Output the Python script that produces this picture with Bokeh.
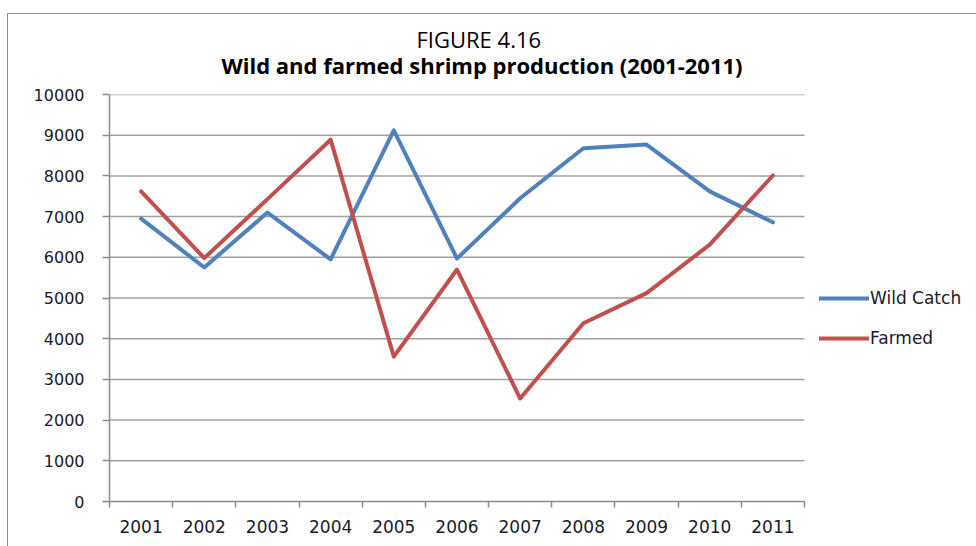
from bokeh.plotting import figure
from bokeh.models import FixedTicker, Legend, LegendItem, Title, Range1d
from bokeh.embed import file_html
from bokeh.resources import INLINE

years = ["2001", "2002", "2003", "2004", "2005", "2006", "2007", "2008", "2009", "2010", "2011"]
wild_catch = [6950, 5750, 7100, 5950, 9120, 5970, 7450, 8680, 8770, 7620, 6860]
farmed = [7620, 5980, 7430, 8890, 3560, 5700, 2530, 4380, 5120, 6310, 8010]
y_ticks = [0, 1000, 2000, 3000, 4000, 5000, 6000, 7000, 8000, 9000, 10000]

TFONT = "Open Sans"
FONT = "DejaVu Sans"
n = len(years)
xs = [i + 0.5 for i in range(n)]

# plot area 108..803 px holds the 11 categories; frame continues to 976 to host the legend
x_end = n * (976 - 108) / (803 - 108)

p = figure(width=969, height=533, output_backend="svg", toolbar_location=None,
           x_range=Range1d(0, x_end), y_range=Range1d(0, 10000),
           min_border_left=101, min_border_right=0, min_border_top=80, min_border_bottom=46)
p.margin = (13, 0, 0, 7)
p.styles = {"border-left": "1px solid #8c8c8c", "border-top": "1px solid #8c8c8c"}

p.title = Title(text="FIGURE 4.16", align="left", text_font=TFONT, text_font_size="22px",
                text_font_style="normal", text_color="#000000", offset=307, standoff=-40)
p.add_layout(Title(text="Wild and farmed shrimp production (2001-2011)", align="left",
                   text_font=TFONT, text_font_size="22px", text_font_style="bold",
                   text_color="#000000", offset=112, standoff=29), "above")

p.outline_line_color = None
p.background_fill_color = "white"
p.border_fill_color = "white"

# axes
p.xaxis.bounds = (0, n)
p.xaxis.ticker = FixedTicker(ticks=xs, minor_ticks=list(range(n + 1)))
p.xaxis.major_label_overrides = {x: y for x, y in zip(xs, years)}
p.xaxis.major_tick_line_color = None
p.xaxis.minor_tick_line_color = "#8c8c8c"
p.xaxis.minor_tick_line_width = 1.5
p.xaxis.minor_tick_out = 6
p.xaxis.minor_tick_in = 0
p.xaxis.axis_line_color = "#8c8c8c"
p.xaxis.axis_line_width = 1.5
p.xaxis.major_label_standoff = 12
p.xaxis.major_label_text_font = FONT
p.xaxis.major_label_text_font_size = "17px"
p.xaxis.major_label_text_color = "#1a1a2a"

p.yaxis.ticker = FixedTicker(ticks=y_ticks)
p.yaxis.minor_tick_line_color = None
p.yaxis.major_tick_line_color = "#8c8c8c"
p.yaxis.major_tick_line_width = 1.5
p.yaxis.major_tick_out = 7
p.yaxis.major_tick_in = 0
p.yaxis.axis_line_color = "#8c8c8c"
p.yaxis.axis_line_width = 1.5
p.yaxis.major_label_standoff = 18
p.yaxis.major_label_text_font = FONT
p.yaxis.major_label_text_font_size = "16px"
p.yaxis.major_label_text_color = "#1a1a2a"

p.xgrid.grid_line_color = None
p.ygrid.grid_line_color = None

# horizontal gridlines limited to the category span
grid_y = y_ticks[1:]
p.segment(x0=[0] * len(grid_y), x1=[n] * len(grid_y), y0=grid_y, y1=grid_y,
          line_color="#a0a0a0", line_width=1.5)

r1 = p.line(xs, wild_catch, line_color="#4F81BD", line_width=4, line_join="round", line_cap="round")
r2 = p.line(xs, farmed, line_color="#C0504D", line_width=4, line_join="round", line_cap="round")

legend = Legend(items=[LegendItem(label="Wild Catch", renderers=[r1]),
                       LegendItem(label="Farmed", renderers=[r2])],
                location=(710, 153), orientation="vertical",
                glyph_width=50, glyph_height=20, label_height=20, label_standoff=1,
                spacing=20, padding=0, margin=0,
                border_line_color=None, background_fill_alpha=0,
                label_text_font=FONT, label_text_font_size="17px", label_text_color="#1a1a2a")
p.add_layout(legend, "center")

open("out.html", "w").write(file_html(p, INLINE))
